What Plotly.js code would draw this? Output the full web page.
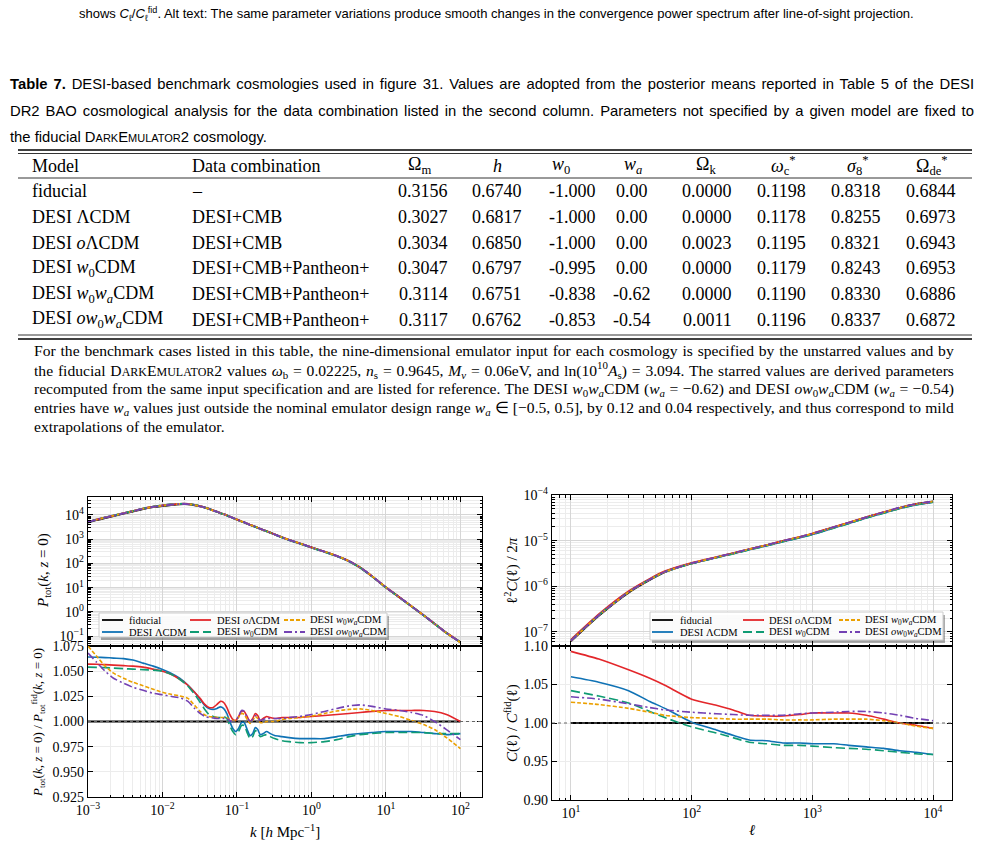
<!DOCTYPE html>
<html>
<head>
<meta charset="utf-8">
<script src="https://cdn.plot.ly/plotly-3.0.1.min.js"></script>
<style>
  html, body { margin: 0; padding: 0; background: #fff; }
  #fig { width: 982px; height: 844px; }
</style>
</head>
<body>
<div id="fig"></div>
<script>
// ---------------- Table 7 values ----------------
const tableModels = [
  'fiducial',
  'DESI ΛCDM',
  'DESI <i>o</i>ΛCDM',
  'DESI <i>w</i><sub>0</sub>CDM',
  'DESI <i>w</i><sub>0</sub><i>w</i><sub><i>a</i></sub>CDM',
  'DESI <i>ow</i><sub>0</sub><i>w</i><sub><i>a</i></sub>CDM'
];
const tableCombos = ['–', 'DESI+CMB', 'DESI+CMB', 'DESI+CMB+Pantheon+', 'DESI+CMB+Pantheon+', 'DESI+CMB+Pantheon+'];
const omegaM      = [0.3156, 0.3027, 0.3034, 0.3047, 0.3114, 0.3117];
const hubbleH     = [0.6740, 0.6817, 0.6850, 0.6797, 0.6751, 0.6762];
const w0Values    = [-1.000, -1.000, -1.000, -0.995, -0.838, -0.853];
const waValues    = [0.00, 0.00, 0.00, 0.00, -0.62, -0.54];
const omegaK      = [0.0000, 0.0000, 0.0023, 0.0000, 0.0000, 0.0011];
const omegaCStar  = [0.1198, 0.1178, 0.1195, 0.1179, 0.1190, 0.1196];
const sigma8Star  = [0.8318, 0.8255, 0.8321, 0.8243, 0.8330, 0.8337];
const omegaDEStar = [0.6844, 0.6973, 0.6943, 0.6953, 0.6886, 0.6872];
const tableHeaders = ['Model', 'Data combination', 'Ω<sub>m</sub>', '<i>h</i>', '<i>w</i><sub>0</sub>',
  '<i>w</i><sub><i>a</i></sub>', 'Ω<sub>k</sub>', '<i>ω</i><sub>c</sub><sup>*</sup>',
  '<i>σ</i><sub>8</sub><sup>*</sup>', 'Ω<sub>de</sub><sup>*</sup>'];

// ---------------- matter power spectrum, z = 0 ----------------
const kGrid = [0.001,0.0013,0.0017,0.0022,0.003,0.004,0.0055,0.0075,0.01,0.013,0.017,0.022,0.027,0.032,0.037,
  0.042,0.048,0.054,0.06,0.066,0.073,0.08,0.088,0.096,0.105,0.115,0.125,0.137,0.15,0.163,0.176,0.19,0.205,
  0.225,0.25,0.28,0.32,0.4,0.5,0.7,1.0,1.5,2.2,3.2,4.5,6.5,10,15,22,32,45,65,100];
const pkFiducial = [4790,6030,7410,8910,11200,13800,17400,20900,23400,25700,27500,27500,25100,22400,20000,
  17800,15100,13500,11700,10700,9550,8510,7590,6760,6030,5370,4900,4370,3890,3550,3240,2950,2690,2400,2140,
  1860,1580,1200,933,661,457,302,200,123,67.6,29.5,10.2,4.07,1.70,0.724,0.324,0.135,0.0562];
// P_tot / P_tot^fid for each benchmark model on kGrid
const pkRatioLCDM = [1.064,1.0638,1.0635,1.063,1.0625,1.061,1.058,1.055,1.0517,1.048,1.043,1.036,1.029,1.022,
  1.016,1.013,1.012,1.013,1.0145,1.013,1.008,1.000,0.993,0.990,0.993,0.999,0.999,0.992,0.986,0.988,0.994,0.992,
  0.987,0.988,0.990,0.988,0.986,0.985,0.984,0.983,0.983,0.983,0.985,0.987,0.988,0.989,0.990,0.990,0.990,0.989,
  0.988,0.987,0.988];
const pkRatioOLCDM = [1.057,1.0568,1.0565,1.056,1.0555,1.055,1.054,1.052,1.050,1.047,1.042,1.036,1.029,1.023,
  1.017,1.014,1.014,1.017,1.020,1.019,1.014,1.007,1.002,1.001,1.005,1.010,1.010,1.005,1.000,1.003,1.008,1.006,
  1.001,1.003,1.005,1.004,1.003,1.004,1.004,1.004,1.005,1.006,1.007,1.008,1.009,1.010,1.011,1.011,1.011,1.011,
  1.010,1.007,1.000];
const pkRatioW0CDM = [1.054,1.0538,1.0535,1.053,1.0525,1.052,1.0515,1.051,1.050,1.047,1.042,1.035,1.027,1.019,
  1.012,1.007,1.005,1.004,1.004,1.005,1.003,0.996,0.990,0.987,0.990,0.996,0.996,0.989,0.983,0.985,0.991,0.989,
  0.985,0.986,0.987,0.985,0.983,0.981,0.980,0.979,0.979,0.980,0.982,0.985,0.987,0.988,0.989,0.989,0.989,0.989,
  0.988,0.988,0.988];
const pkRatioW0WaCDM = [1.075,1.065,1.055,1.048,1.043,1.039,1.0355,1.032,1.029,1.027,1.0255,1.023,1.016,1.010,
  1.0065,1.005,1.0045,1.004,1.004,1.004,1.004,1.002,1.001,1.001,1.004,1.008,1.007,1.002,0.998,1.001,1.005,1.003,
  0.999,0.999,1.000,1.000,1.000,1.002,1.003,1.004,1.0055,1.008,1.0105,1.012,1.0125,1.011,1.008,1.005,1.001,
  0.997,0.992,0.984,0.973];
const pkRatioOW0WaCDM = [1.068,1.059,1.050,1.043,1.038,1.034,1.031,1.028,1.0265,1.025,1.0235,1.020,1.013,1.008,
  1.005,1.004,1.0035,1.003,1.003,1.003,1.003,1.001,1.000,1.001,1.005,1.011,1.010,1.004,1.000,1.002,1.006,1.004,
  1.001,1.002,1.003,1.003,1.003,1.003,1.004,1.005,1.007,1.010,1.013,1.0155,1.0165,1.015,1.0125,1.011,1.009,
  1.006,1.000,0.992,0.982];

// ---------------- convergence power spectrum ----------------
const ellGrid = [10,17,30,45,60,100,160,220,300,420,570,790,1000,1500,2000,2800,3900,5300,7200,10000];
const clFiducial = [6.17e-8,2.24e-7,7.24e-7,1.38e-6,2.04e-6,3.16e-6,4.27e-6,5.25e-6,6.46e-6,7.94e-6,9.77e-6,
  1.20e-5,1.41e-5,1.95e-5,2.45e-5,3.24e-5,4.17e-5,5.25e-5,6.31e-5,7.24e-5];
const clRatioLCDM     = [1.060,1.053,1.042,1.028,1.019,1.001,0.991,0.984,0.978,0.977,0.974,0.974,0.973,0.973,0.971,0.969,0.967,0.964,0.962,0.959];
const clRatioOLCDM    = [1.093,1.083,1.069,1.058,1.049,1.031,1.023,1.017,1.010,1.009,1.009,1.011,1.013,1.013,1.013,1.010,1.005,1.000,0.997,0.993];
const clRatioW0CDM    = [1.042,1.035,1.026,1.015,1.007,0.995,0.987,0.981,0.975,0.973,0.971,0.971,0.970,0.968,0.967,0.966,0.964,0.962,0.960,0.959];
const clRatioW0WaCDM  = [1.027,1.024,1.019,1.014,1.010,1.007,1.006,1.005,1.005,1.005,1.004,1.004,1.004,1.005,1.005,1.005,1.003,1.000,0.996,0.993];
const clRatioOW0WaCDM = [1.034,1.031,1.025,1.020,1.017,1.014,1.012,1.011,1.010,1.010,1.010,1.012,1.013,1.014,1.015,1.015,1.013,1.010,1.006,1.003];

// ---------------- tick labels (decades) ----------------
const kTickVals   = [1e-3, 1e-2, 1e-1, 1, 10, 100];
const kTickText   = ['10<sup>−3</sup>', '10<sup>−2</sup>', '10<sup>−1</sup>', '10<sup>0</sup>', '10<sup>1</sup>', '10<sup>2</sup>'];
const pkTickVals  = [1e-1, 1, 10, 100, 1e3, 1e4];
const pkTickText  = ['10<sup>−1</sup>', '10<sup>0</sup>', '10<sup>1</sup>', '10<sup>2</sup>', '10<sup>3</sup>', '10<sup>4</sup>'];
const ellTickVals = [10, 100, 1000, 10000];
const ellTickText = ['10<sup>1</sup>', '10<sup>2</sup>', '10<sup>3</sup>', '10<sup>4</sup>'];
const clTickVals  = [1e-7, 1e-6, 1e-5, 1e-4];
const clTickText  = ['10<sup>−7</sup>', '10<sup>−6</sup>', '10<sup>−5</sup>', '10<sup>−4</sup>'];

// ---------------- styling ----------------
const W = 982, H = 844;
const px = v => v / W;          // pixel column -> paper x
const py = v => 1 - v / H;      // pixel row    -> paper y
const SANS = 'Liberation Sans, Arial, sans-serif';
const SERIF = 'Liberation Serif, Times New Roman, serif';

const models = [
  { name: 'DESI ΛCDM', color: '#0f72b5', dash: 'solid', pk: pkRatioLCDM, cl: clRatioLCDM },
  { name: 'DESI <i>o</i>ΛCDM', color: '#e3262a', dash: 'solid', pk: pkRatioOLCDM, cl: clRatioOLCDM },
  { name: 'DESI <i>w</i><sub>0</sub>CDM', color: '#0f9b73', dash: '9px,4px', pk: pkRatioW0CDM, cl: clRatioW0CDM },
  { name: 'DESI <i>w</i><sub>0</sub><i>w</i><sub><i>a</i></sub>CDM', color: '#eba000', dash: '4px,2px', pk: pkRatioW0WaCDM, cl: clRatioW0WaCDM },
  { name: 'DESI <i>ow</i><sub>0</sub><i>w</i><sub><i>a</i></sub>CDM', color: '#7341b3', dash: '8px,3px,2px,3px', pk: pkRatioOW0WaCDM, cl: clRatioOW0WaCDM }
];
const fidStyle = { name: 'fiducial', color: '#000000', dash: 'solid' };

// ---------------- traces ----------------
const traces = [];
function line(x, y, xa, ya, st, width) {
  traces.push({
    type: 'scatter', mode: 'lines', x: x, y: y, xaxis: xa, yaxis: ya, name: st.name,
    line: { color: st.color, dash: st.dash, width: width, shape: 'spline', smoothing: 0.6 },
    hoverinfo: 'skip'
  });
}
// P(k)
line(kGrid, pkFiducial, 'x', 'y', fidStyle, 1.8);
models.forEach(m => line(kGrid, pkFiducial.map((p, i) => p * m.pk[i]), 'x', 'y', m, 1.8));
// P / P_fid
line(kGrid, pkFiducial.map(p => p / p), 'x2', 'y2', fidStyle, 1.8);
models.forEach(m => line(kGrid, m.pk, 'x2', 'y2', m, 1.6));
// l^2 C(l) / 2pi
line(ellGrid, clFiducial, 'x3', 'y3', fidStyle, 1.8);
models.forEach(m => line(ellGrid, clFiducial.map((c, i) => c * m.cl[i]), 'x3', 'y3', m, 1.8));
// C / C_fid
line(ellGrid, clFiducial.map(c => c / c), 'x4', 'y4', fidStyle, 1.8);
models.forEach(m => line(ellGrid, m.cl, 'x4', 'y4', m, 1.6));

// ---------------- axes ----------------
const tickFont = { family: SERIF, size: 14, color: '#000' };
function axis(extra) {
  return Object.assign({
    showline: true, linecolor: '#000', linewidth: 1.3, mirror: 'allticks',
    ticks: 'inside', ticklen: 5, tickwidth: 1, tickcolor: '#000',
    showgrid: true, gridcolor: '#d6d6d6', gridwidth: 1, zeroline: false,
    tickfont: tickFont, fixedrange: true
  }, extra);
}
const minorLog = { ticks: 'inside', ticklen: 2.5, tickcolor: '#000', dtick: 'D1', showgrid: true, gridcolor: '#ececec' };
function logAxis(vals, txt, extra) {
  return axis(Object.assign({ type: 'log', tickmode: 'array', tickvals: vals, ticktext: txt, minor: minorLog }, extra));
}
const leftX = [px(88), px(482)], rightX = [px(552), px(952)];

const layout = {
  width: W, height: H, margin: { l: 0, r: 0, t: 0, b: 0 },
  paper_bgcolor: '#fff', plot_bgcolor: '#fff', showlegend: false,
  font: { family: SERIF, color: '#000' },
  xaxis: logAxis(kTickVals, kTickText, { domain: leftX, anchor: 'y', range: [-3, 2.29], showticklabels: false }),
  yaxis: logAxis(pkTickVals, pkTickText, { domain: [py(646), py(497)], anchor: 'x', range: [-1.41, 4.74] }),
  xaxis2: logAxis(kTickVals, kTickText, { domain: leftX, anchor: 'y2', range: [-3, 2.29] }),
  yaxis2: axis({ domain: [py(797), py(646)], anchor: 'x2', range: [0.925, 1.075], dtick: 0.025, tick0: 0.925, tickformat: '.3f', gridcolor: '#ececec' }),
  xaxis3: logAxis(ellTickVals, ellTickText, { domain: rightX, anchor: 'y3', range: [0.843, 4.157], showticklabels: false }),
  yaxis3: logAxis(clTickVals, clTickText, { domain: [py(646), py(495)], anchor: 'x3', range: [-7.31, -4] }),
  xaxis4: logAxis(ellTickVals, ellTickText, { domain: rightX, anchor: 'y4', range: [0.843, 4.157] }),
  yaxis4: axis({ domain: [py(800), py(646)], anchor: 'x4', range: [0.9, 1.1], dtick: 0.05, tick0: 0.9, tickformat: '.2f', gridcolor: '#ececec' }),
  shapes: [], annotations: []
};

// text placed in page pixels; lines marked with `fill` are stretched to a set right edge
const justified = [];
function text(t, x, y, o) {
  o = o || {};
  const xa = o.xanchor || 'left';
  layout.annotations.push({
    text: t, x: px(x), y: py(y), xref: 'paper', yref: 'paper', showarrow: false,
    xanchor: xa, yanchor: o.yanchor || 'middle', align: xa === 'left' ? 'left' : 'center', textangle: o.angle || 0,
    font: { family: o.family || SERIF, size: o.size || 13, color: '#000' }
  });
  if (o.fill) justified.push({ index: layout.annotations.length - 1, width: o.fill - x });
}
function hrule(x0, x1, y, w, color, dash) {
  layout.shapes.push({ type: 'line', xref: 'paper', yref: 'paper', x0: px(x0), x1: px(x1), y0: py(y), y1: py(y),
    line: { color: color || '#000', width: w, dash: dash || 'solid' } });
}

// reference line at unity in both ratio panels
[['x2', 'y2'], ['x4', 'y4']].forEach(([xa, ya]) => {
  layout.shapes.push({ type: 'line', xref: xa + ' domain', yref: ya, x0: 0, x1: 1, y0: 1, y1: 1,
    line: { color: '#666', width: 1, dash: 'dot' } });
});

// ---------------- legends ----------------
const legendOrder = [fidStyle, models[0], models[1], models[2], models[3], models[4]];
function legend(box, lineX, textX, rowY) {
  layout.shapes.push({ type: 'rect', xref: 'paper', yref: 'paper', x0: px(box[0] + 2), x1: px(box[1] + 2),
    y0: py(box[3] + 3), y1: py(box[2] + 3), fillcolor: 'rgba(0,0,0,0.32)', line: { width: 0 } });
  layout.shapes.push({ type: 'rect', xref: 'paper', yref: 'paper', x0: px(box[0]), x1: px(box[1]),
    y0: py(box[3]), y1: py(box[2]), fillcolor: 'rgba(255,255,255,0.95)', line: { color: '#cccccc', width: 1 } });
  legendOrder.forEach((st, i) => {
    const c = Math.floor(i / 2), r = i % 2;
    layout.shapes.push({ type: 'line', xref: 'paper', yref: 'paper', x0: px(lineX[c]), x1: px(lineX[c] + 21),
      y0: py(rowY[r]), y1: py(rowY[r]), line: { color: st.color, width: 1.8, dash: st.dash } });
    text(st.name, textX[c], rowY[r], { size: 10.5 });
  });
}
legend([99, 387, 613, 637], [102, 190, 284], [127, 215, 308], [620, 632]);
legend([650, 943, 612, 640], [652, 743, 839], [678, 767, 863], [620, 632]);

// ---------------- axis titles ----------------
text('<i>P</i><sub>tot</sub>(<i>k</i>, <i>z</i> = 0)', 44, 571, { angle: -90, xanchor: 'center', size: 15 });
text('<i>P</i><sub>tot</sub>(<i>k</i>, <i>z</i> = 0) / <i>P</i><sub>tot</sub><sup>fid</sup>(<i>k</i>, <i>z</i> = 0)', 38, 723, { angle: -90, xanchor: 'center', size: 13 });
text('<i>k</i> [<i>h</i> Mpc<sup>−1</sup>]', 285, 831, { xanchor: 'center', size: 15 });
text('ℓ<sup>2</sup><i>C</i>(ℓ) / 2<i>π</i>', 511, 571, { angle: -90, xanchor: 'center', size: 15 });
text('<i>C</i>(ℓ) / <i>C</i><sup>fid</sup>(ℓ)', 511, 723, { angle: -90, xanchor: 'center', size: 15 });
text('<i>ℓ</i>', 752, 830, { xanchor: 'center', size: 15 });

// ---------------- captions ----------------
const smallCaps = (s, size) => '<span style="font-size:' + size + 'px">' + s + '</span>';
const CS = 14.8;
text('shows <i>C</i><sub>ℓ</sub>/<i>C</i><sub>ℓ</sub><sup>fid</sup>. Alt text: The same parameter variations produce smooth changes in the convergence power spectrum after line-of-sight projection.',
  77, 14, { family: SANS, size: 13 });
text('<b>Table 7.</b> DESI-based benchmark cosmologies used in figure 31. Values are adopted from the posterior means reported in Table 5 of the DESI', 8, 84, { family: SANS, size: CS, fill: 972 });
text('DR2 BAO cosmological analysis for the data combination listed in the second column. Parameters not specified by a given model are fixed to', 8, 111, { family: SANS, size: CS, fill: 972 });
text('the fiducial D' + smallCaps('ARK', 11) + 'E' + smallCaps('MULATOR', 11) + '2 cosmology.', 8, 137, { family: SANS, size: CS });

// ---------------- table ----------------
hrule(18, 972, 150, 1.4); hrule(18, 972, 153.5, 0.8);
hrule(18, 972, 178, 0.8);
hrule(18, 972, 335, 0.8); hrule(18, 972, 339, 1.4);
const TS = 18;
const numCols = [
  { vals: omegaM, d: 4, cx: 423 }, { vals: hubbleH, d: 4, cx: 497 }, { vals: w0Values, d: 3, cx: 572 },
  { vals: waValues, d: 2, cx: 632 }, { vals: omegaK, d: 4, cx: 707 }, { vals: omegaCStar, d: 4, cx: 781 },
  { vals: sigma8Star, d: 4, cx: 856 }, { vals: omegaDEStar, d: 4, cx: 931 }
];
const headerCx = [419, 497, 561, 633, 706, 783, 857, 932];
const rowY = [191, 217, 243, 268, 294, 320];
text(tableHeaders[0], 30, 166, { size: TS });
text(tableHeaders[1], 190, 166, { size: TS });
headerCx.forEach((cx, j) => text(tableHeaders[j + 2], cx, 166, { size: TS, xanchor: 'center' }));
tableModels.forEach((m, i) => {
  text(m, 30, rowY[i], { size: TS });
  text(tableCombos[i], 190, rowY[i], { size: TS });
  numCols.forEach(col => text(col.vals[i].toFixed(col.d), col.cx, rowY[i], { size: TS, xanchor: 'center' }));
});

// ---------------- table notes ----------------
const NS = 15.6;
text('For the benchmark cases listed in this table, the nine-dimensional emulator input for each cosmology is specified by the unstarred values and by', 32, 350, { size: NS, fill: 952 });
text('the fiducial D' + smallCaps('ARK', 12) + 'E' + smallCaps('MULATOR', 12) + '2 values <i>ω</i><sub>b</sub> = 0.02225, <i>n</i><sub>s</sub> = 0.9645, <i>M</i><sub><i>ν</i></sub> = 0.06eV, and ln(10<sup>10</sup><i>A</i><sub>s</sub>) = 3.094. The starred values are derived parameters', 32, 369.5, { size: NS, fill: 952 });
text('recomputed from the same input specification and are listed for reference. The DESI <i>w</i><sub>0</sub><i>w</i><sub><i>a</i></sub>CDM (<i>w</i><sub><i>a</i></sub> = −0.62) and DESI <i>ow</i><sub>0</sub><i>w</i><sub><i>a</i></sub>CDM (<i>w</i><sub><i>a</i></sub> = −0.54)', 32, 389, { size: NS, fill: 952 });
text('entries have <i>w</i><sub><i>a</i></sub> values just outside the nominal emulator design range <i>w</i><sub><i>a</i></sub> ∈ [−0.5, 0.5], by 0.12 and 0.04 respectively, and thus correspond to mild', 32, 408, { size: NS, fill: 952 });
text('extrapolations of the emulator.', 32, 426.5, { size: NS });

Plotly.newPlot('fig', traces, layout, { staticPlot: true, displayModeBar: false }).then(gd => {
  // spread the words of full-width paragraph lines so they end on the right margin
  justified.forEach(j => {
    const g = gd.querySelector('.annotation[data-index="' + j.index + '"]');
    if (!g) return;
    const t = g.querySelector('text.annotation-text');
    if (!t) return;
    const natural = t.getBBox().width;
    const gaps = (t.textContent.match(/[ \u00a0]/g) || []).length;
    if (gaps > 0 && natural < j.width) t.style.wordSpacing = ((j.width - natural) / gaps).toFixed(2) + 'px';
  });
});
</script>
</body>
</html>
